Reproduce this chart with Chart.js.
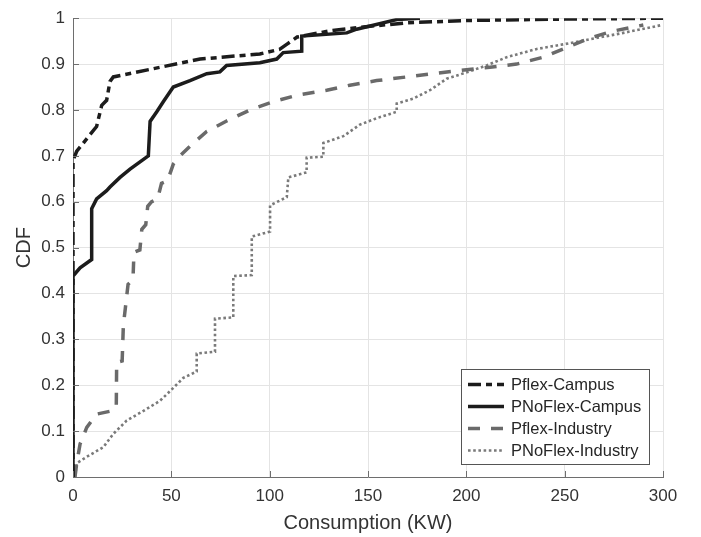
<!DOCTYPE html>
<html>
<head>
<meta charset="utf-8">
<script src="https://cdn.jsdelivr.net/npm/chart.js@4/dist/chart.umd.min.js"></script>
<style>
  html, body { margin: 0; padding: 0; background: #fff; }
  #c { display: block; }
</style>
</head>
<body>
<canvas id="c" width="701" height="537"></canvas>
<script>
// ---------------- DATA ----------------
const seriesLabels = ['Pflex-Campus', 'PNoFlex-Campus', 'Pflex-Industry', 'PNoFlex-Industry'];

const pflexCampusX = [0, 0, 1.9, 12, 14.6, 17.1, 18.8, 20.5, 64.6, 95, 105, 109, 114, 130, 150, 170, 200, 250, 300];
const pflexCampusY = [0, 0.69, 0.71, 0.764, 0.81, 0.821, 0.862, 0.872, 0.911, 0.922, 0.932, 0.944, 0.959, 0.972, 0.982, 0.99, 0.995, 0.998, 1.0];

const pnoflexCampusX = [0, 0, 3.6, 9.5, 9.5, 12, 17.1, 18.8, 23.9, 29, 38.3, 39.2, 42.6, 45.9, 51, 59.5, 68, 74.7, 78.1, 95, 103.6, 106.9, 116.3, 116.3, 139.2, 144.2, 164.6, 176.4];
const pnoflexCampusY = [0, 0.438, 0.456, 0.474, 0.585, 0.606, 0.624, 0.632, 0.653, 0.671, 0.70, 0.775, 0.796, 0.818, 0.85, 0.864, 0.879, 0.883, 0.897, 0.903, 0.911, 0.925, 0.928, 0.961, 0.968, 0.976, 0.997, 1.0];

const pflexIndustryX = [1, 1.9, 3.6, 7, 12, 19.7, 22, 22.2, 25, 25.6, 28, 30.5, 31, 34, 35, 37, 38, 40, 43, 45, 48, 51, 53.5, 59.5, 68, 78.1, 90, 101.8, 113.7, 129, 140.8, 154.4, 169.7, 183.2, 196.8, 212, 225.6, 239.1, 251, 262.9, 274.7, 290];
const pflexIndustryY = [0, 0.03, 0.072, 0.108, 0.137, 0.144, 0.15, 0.25, 0.253, 0.33, 0.42, 0.43, 0.49, 0.495, 0.54, 0.55, 0.59, 0.60, 0.606, 0.64, 0.645, 0.682, 0.696, 0.721, 0.753, 0.776, 0.80, 0.818, 0.832, 0.843, 0.854, 0.864, 0.872, 0.879, 0.886, 0.893, 0.90, 0.915, 0.936, 0.957, 0.972, 0.985];

const pnoflexIndustryX = [1, 1.9, 7, 15.4, 20.5, 27.3, 35.8, 44.2, 49.3, 56.1, 62.9, 62.9, 72.2, 72.2, 81.5, 81.5, 90.9, 90.9, 100.2, 100.2, 108.7, 109.5, 118.8, 118.8, 127.3, 127.3, 137.5, 145.9, 154.4, 164.6, 164.6, 173.1, 181.5, 190, 200.2, 210.3, 220.5, 235.8, 249.3, 262.9, 279.8, 299.3];
const pnoflexIndustryY = [0, 0.03, 0.044, 0.065, 0.094, 0.123, 0.144, 0.166, 0.187, 0.216, 0.23, 0.269, 0.273, 0.345, 0.348, 0.438, 0.44, 0.524, 0.535, 0.592, 0.61, 0.653, 0.664, 0.696, 0.698, 0.728, 0.743, 0.768, 0.782, 0.796, 0.814, 0.825, 0.843, 0.868, 0.882, 0.897, 0.915, 0.933, 0.943, 0.954, 0.968, 0.985];

const xTicks = [0, 50, 100, 150, 200, 250, 300];
const yTicks = [0, 0.1, 0.2, 0.3, 0.4, 0.5, 0.6, 0.7, 0.8, 0.9, 1];
const xTitle = 'Consumption (KW)';
const yTitle = 'CDF';

// ---------------- BUILD ----------------
const pts = (xs, ys) => xs.map((x, i) => ({ x: x, y: ys[i] }));

const FONT = "'Liberation Sans', Arial, Helvetica, sans-serif";
const TEXT = '#333333';
const AXIS = '#6e6e6e';
const GRID = '#e4e4e4';

const datasets = [
  { label: seriesLabels[0], data: pts(pflexCampusX, pflexCampusY), borderColor: '#1c1c1c', borderWidth: 3.5, borderDash: [13, 5, 6, 5] },
  { label: seriesLabels[1], data: pts(pnoflexCampusX, pnoflexCampusY), borderColor: '#1c1c1c', borderWidth: 3.5, borderDash: [] },
  { label: seriesLabels[2], data: pts(pflexIndustryX, pflexIndustryY), borderColor: '#6a6a6a', borderWidth: 3.5, borderDash: [12, 11] },
  { label: seriesLabels[3], data: pts(pnoflexIndustryX, pnoflexIndustryY), borderColor: '#7a7a7a', borderWidth: 2.6, borderDash: [2.6, 2.6] }
];
datasets.forEach(d => { d.fill = false; d.pointRadius = 0; d.tension = 0; d.borderCapStyle = 'butt'; d.borderJoinStyle = 'miter'; });

// inward tick marks
const innerTicks = {
  id: 'innerTicks',
  afterDatasetsDraw(chart) {
    const { ctx, chartArea, scales } = chart;
    ctx.save();
    ctx.strokeStyle = AXIS;
    ctx.lineWidth = 1;
    ctx.beginPath();
    xTicks.forEach(v => {
      const px = Math.round(scales.x.getPixelForValue(v)) + 0.5;
      ctx.moveTo(px, chartArea.bottom);
      ctx.lineTo(px, chartArea.bottom - 6);
    });
    yTicks.forEach(v => {
      const py = Math.round(scales.y.getPixelForValue(v)) + 0.5;
      ctx.moveTo(chartArea.left, py);
      ctx.lineTo(chartArea.left + 6, py);
    });
    ctx.stroke();
    ctx.restore();
  }
};

// legend inside plot (bottom-right box)
const boxLegend = {
  id: 'boxLegend',
  afterDraw(chart) {
    const { ctx, chartArea } = chart;
    const w = 188, h = 95;
    const x0 = chartArea.right - 14 - w;
    const y0 = chartArea.bottom - 13 - h;
    ctx.save();
    ctx.fillStyle = '#ffffff';
    ctx.fillRect(x0, y0, w, h);
    ctx.strokeStyle = '#555555';
    ctx.lineWidth = 1;
    ctx.strokeRect(x0 + 0.5, y0 + 0.5, w, h);
    ctx.font = '16.5px ' + FONT;
    ctx.textBaseline = 'middle';
    ctx.textAlign = 'left';
    chart.data.datasets.forEach((d, i) => {
      const cy = y0 + 15.5 + i * 22;
      ctx.beginPath();
      ctx.setLineDash(d.borderDash || []);
      ctx.lineCap = 'butt';
      ctx.strokeStyle = d.borderColor;
      ctx.lineWidth = d.borderWidth;
      ctx.moveTo(x0 + 7, cy);
      ctx.lineTo(x0 + 43, cy);
      ctx.stroke();
      ctx.setLineDash([]);
      ctx.fillStyle = '#262626';
      ctx.fillText(d.label, x0 + 50, cy + 0.5);
    });
    ctx.restore();
  }
};

new Chart(document.getElementById('c'), {
  type: 'line',
  data: { datasets: datasets },
  plugins: [innerTicks, boxLegend],
  options: {
    responsive: false,
    animation: false,
    devicePixelRatio: 1,
    layout: { padding: { left: 0, right: 38, top: 12, bottom: 0 } },
    plugins: { legend: { display: false }, tooltip: { enabled: false } },
    scales: {
      x: {
        type: 'linear', min: 0, max: 300,
        afterBuildTicks(s) { s.ticks = xTicks.map(v => ({ value: v })); },
        afterFit(s) { s.height = 60; },
        grid: { color: GRID, lineWidth: 1, drawTicks: false },
        border: { display: true, color: AXIS, width: 1 },
        ticks: { color: TEXT, font: { family: FONT, size: 17 }, padding: 9, maxRotation: 0, autoSkip: false },
        title: { display: true, text: xTitle, color: TEXT, font: { family: FONT, size: 20 }, padding: { top: 0, bottom: 2 } }
      },
      y: {
        type: 'linear', min: 0, max: 1,
        afterBuildTicks(s) { s.ticks = yTicks.map(v => ({ value: v })); },
        afterFit(s) { s.width = 73; },
        grid: { color: GRID, lineWidth: 1, drawTicks: false },
        border: { display: true, color: AXIS, width: 1 },
        ticks: { color: TEXT, font: { family: FONT, size: 17 }, padding: 8, autoSkip: false,
                 callback: (v) => String(Math.round(v * 10) / 10) },
        title: { display: true, text: yTitle, color: TEXT, font: { family: FONT, size: 20 }, padding: { top: 12, bottom: 0 } }
      }
    }
  }
});
</script>
</body>
</html>
